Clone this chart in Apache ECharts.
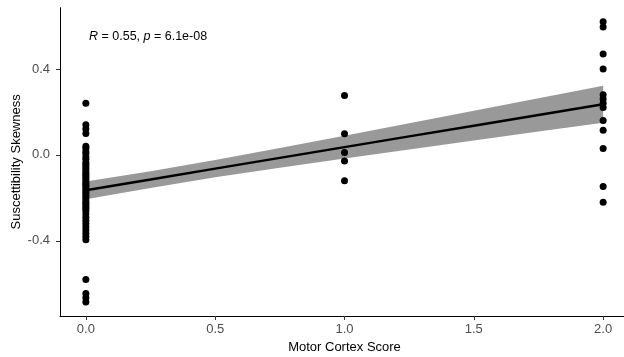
<!DOCTYPE html>
<html>
<head>
<meta charset="utf-8">
<script src="https://cdn.jsdelivr.net/npm/echarts@6/dist/echarts.min.js"></script>
<style>
html,body{margin:0;padding:0;background:#fff;}
#chart{width:624px;height:357px;}
</style>
</head>
<body>
<div id="chart"></div>
<script>
// Observed points: motor cortex score (x) and susceptibility skewness (y)
const score0 = [0.24, 0.14, 0.12, 0.10,
  0.04, 0.03, 0.015, 0.005, -0.01, -0.02, -0.035, -0.045, -0.055, -0.065, -0.075, -0.085,
  -0.095, -0.105, -0.115, -0.125, -0.135, -0.14, -0.15, -0.16, -0.17, -0.18, -0.19,
  -0.2, -0.21, -0.22, -0.23, -0.24, -0.25, -0.26, -0.275, -0.29, -0.305, -0.32,
  -0.335, -0.35, -0.365, -0.38, -0.395,
  -0.58, -0.645, -0.665, -0.685];
const score1 = [0.276, 0.098, 0.011, -0.028, -0.121];
const score2 = [0.62, 0.595, 0.47, 0.40, 0.28, 0.26, 0.24, 0.22, 0.16, 0.115, 0.03, -0.147, -0.22];

// Fitted line and 95% band
const fitX = [0, 0.25, 0.5, 0.75, 1, 1.25, 1.5, 1.75, 2];
const fitY = [-0.165, -0.115, -0.064, -0.014, 0.036, 0.086, 0.136, 0.186, 0.236];
const bandHalf = [0.041, 0.039, 0.040, 0.046, 0.053, 0.061, 0.069, 0.077, 0.086];

const xTicks = [0, 0.5, 1, 1.5, 2];
const yTicks = [-0.4, 0, 0.4];

const pts = [];
score0.forEach(v => pts.push([0, v]));
score1.forEach(v => pts.push([1, v]));
score2.forEach(v => pts.push([2, v]));

const line = fitX.map((x, i) => [x, fitY[i]]);

const font = '"Liberation Sans", Arial, Helvetica, sans-serif';
const chart = echarts.init(document.getElementById('chart'), null, {renderer: 'canvas'});
chart.setOption({
  animation: false,
  backgroundColor: '#fff',
  textStyle: {fontFamily: font},
  grid: {left: 60, width: 569, top: 7.7, bottom: 41, containLabel: false, outerBoundsMode: 'none'},
  title: {
    text: '{i|R} = 0.55, {i|p} = 6.1e-08',
    left: 84, top: 25,
    textStyle: {
      fontFamily: font, fontSize: 12.5, fontWeight: 'normal', color: '#000',
      rich: {i: {fontStyle: 'italic', fontFamily: font, fontSize: 12.5, color: '#000'}}
    }
  },
  xAxis: {
    type: 'value', min: -0.1, max: 2.1,
    name: 'Motor Cortex Score', nameLocation: 'middle', nameGap: 23,
    nameTextStyle: {fontFamily: font, fontSize: 13, color: '#000'},
    axisLine: {show: true, onZero: false, lineStyle: {color: '#000', width: 1}},
    axisTick: {show: true, length: 4, lineStyle: {color: '#333'}, customValues: xTicks},
    axisLabel: {fontFamily: font, fontSize: 13, color: '#4d4d4d', margin: 7,
      customValues: xTicks, formatter: v => v.toFixed(1)},
    splitLine: {show: false}
  },
  yAxis: {
    type: 'value', min: -0.75, max: 0.685,
    name: 'Suscettibility Skewness', nameLocation: 'middle', nameGap: 37, nameMoveOverlap: false,
    nameTextStyle: {fontFamily: font, fontSize: 13, color: '#000'},
    axisLine: {show: true, onZero: false, lineStyle: {color: '#000', width: 1}},
    axisTick: {show: true, length: 4, lineStyle: {color: '#333'}, customValues: yTicks},
    axisLabel: {fontFamily: font, fontSize: 13, color: '#4d4d4d', margin: 10,
      customValues: yTicks, formatter: v => v.toFixed(1)},
    splitLine: {show: false}
  },
  series: [
    {
      type: 'custom', silent: true, z: 1,
      data: [[fitX[0], fitY[0]]],
      renderItem: function (params, api) {
        const up = fitX.map((x, i) => api.coord([x, fitY[i] + bandHalf[i]]));
        const lo = fitX.map((x, i) => api.coord([x, fitY[i] - bandHalf[i]])).reverse();
        return {type: 'polygon', shape: {points: up.concat(lo)}, style: {fill: '#999999'}};
      }
    },
    {type: 'line', data: line, symbol: 'none', lineStyle: {color: '#000', width: 2.5}, z: 2},
    {type: 'scatter', data: pts, symbol: 'circle', symbolSize: 7, itemStyle: {color: '#000', opacity: 1}, z: 3}
  ]
});
</script>
</body>
</html>
